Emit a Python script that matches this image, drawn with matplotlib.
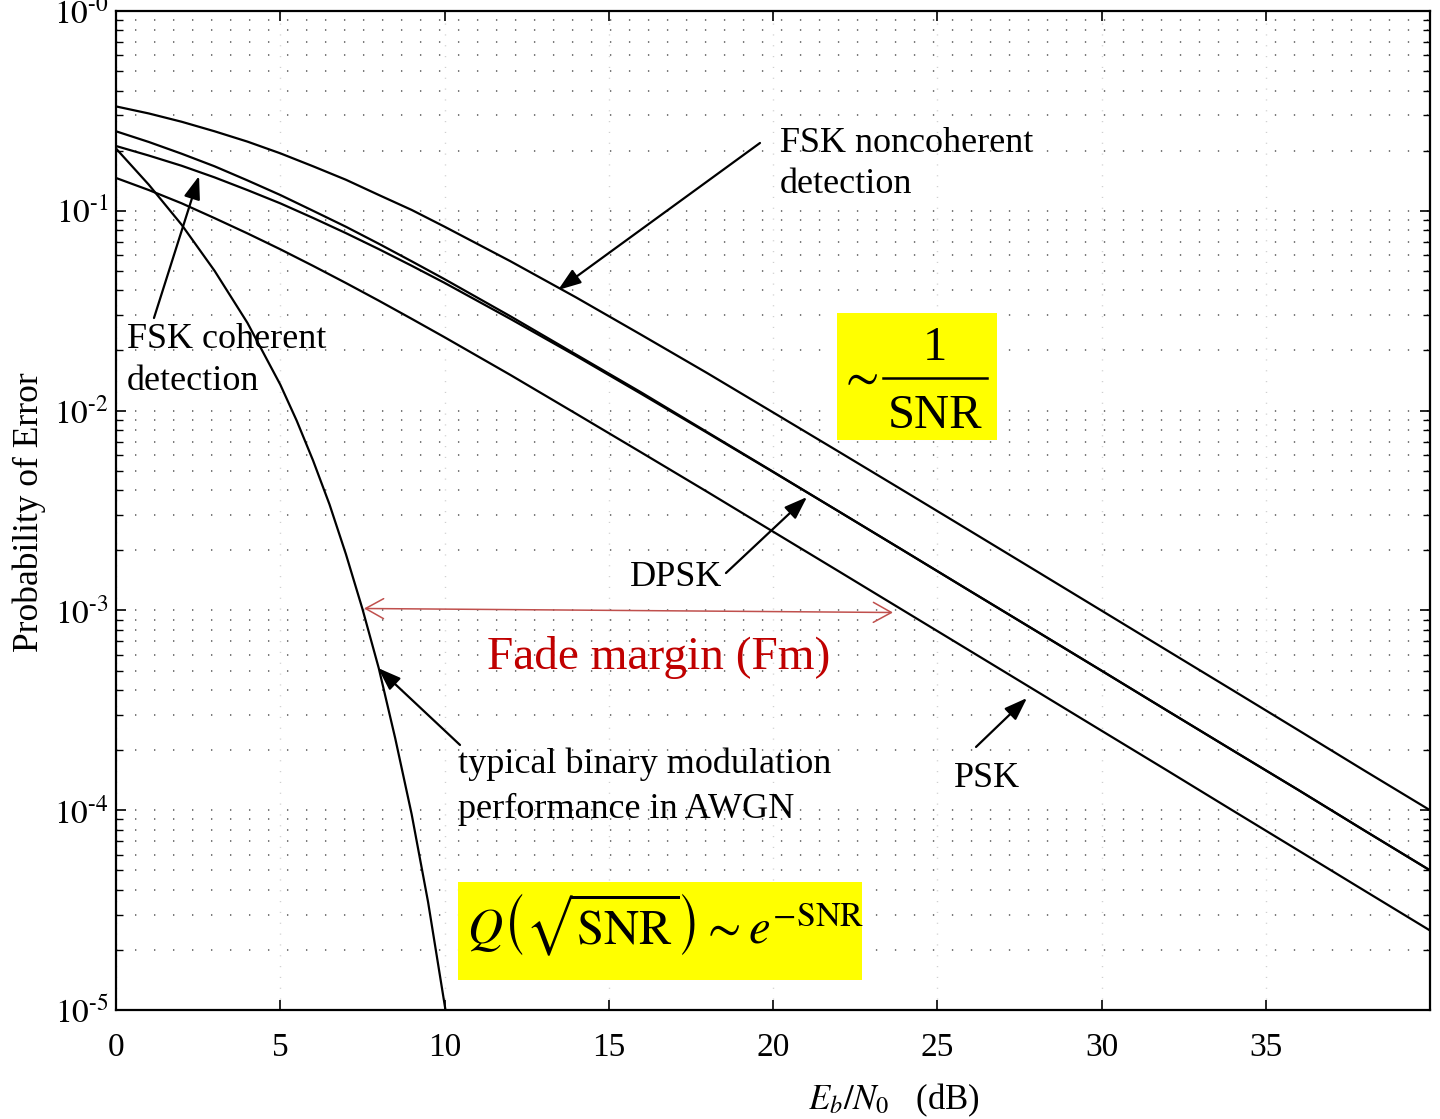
import matplotlib
matplotlib.use('Agg')
import matplotlib.pyplot as plt
from matplotlib.ticker import FixedLocator, FixedFormatter, LogLocator, NullFormatter, NullLocator
from matplotlib.lines import Line2D
from matplotlib.patches import Rectangle

plt.rcParams['font.family'] = ['Liberation Serif', 'DejaVu Serif']
plt.rcParams['mathtext.fontset'] = 'stix'

# ---------------- data ----------------
ebn0_db = [0, 1, 2, 3, 4, 5, 6, 7, 8, 9, 10,
           12, 14, 16, 18, 20, 22, 24, 26, 28, 30, 32, 34, 36, 38, 40]

fsk_noncoherent = [0.333, 0.307, 0.279, 0.250, 0.222, 0.194, 0.167, 0.143, 0.120, 0.101, 0.0833,
                   0.0560, 0.0369, 0.0239, 0.0154, 0.0098, 0.00623, 0.00395, 0.00250, 0.00158,
                   0.000998, 0.000630, 0.000398, 0.000251, 0.000158, 0.000100]

dpsk = [0.250, 0.221, 0.193, 0.167, 0.142, 0.120, 0.100, 0.0832, 0.0684, 0.0559, 0.0455,
        0.0297, 0.0191, 0.0123, 0.00780, 0.00495, 0.00313, 0.00198, 0.00125, 0.000791,
        0.000500, 0.000315, 0.000199, 0.000126, 0.0000792, 0.0000500]

fsk_coherent = [0.211, 0.189, 0.168, 0.147, 0.127, 0.109, 0.0921, 0.0773, 0.0643, 0.0531, 0.0436,
                0.0288, 0.0188, 0.0121, 0.00774, 0.00493, 0.00313, 0.00198, 0.00125, 0.000790,
                0.000499, 0.000315, 0.000199, 0.000126, 0.0000792, 0.0000500]

psk = [0.146, 0.127, 0.109, 0.0919, 0.0771, 0.0642, 0.0530, 0.0435, 0.0355, 0.0288, 0.0233,
       0.0151, 0.00966, 0.00616, 0.00392, 0.00248, 0.00157, 0.000992, 0.000627, 0.000396,
       0.000250, 0.000158, 0.0000995, 0.0000628, 0.0000396, 0.0000250]

awgn_db = [0, 1, 2, 3, 4, 5, 5.5, 6, 6.5, 7, 7.5, 8, 8.5, 9, 9.5, 10.03]
awgn = [0.205, 0.135, 0.0851, 0.0501, 0.0275, 0.0135, 0.00891, 0.00562, 0.00339, 0.00191,
        0.00102, 0.000513, 0.000229, 0.0000955, 0.0000347, 0.0000100]

x_ticks = [0, 5, 10, 15, 20, 25, 30, 35]
x_tick_labels = ['0', '5', '10', '15', '20', '25', '30', '35']
y_ticks = [1e-5, 1e-4, 1e-3, 1e-2, 1e-1, 1e0]
y_tick_labels = [r'$10^{\text{-}5}$', r'$10^{\text{-}4}$', r'$10^{\text{-}3}$',
                 r'$10^{\text{-}2}$', r'$10^{\text{-}1}$', r'$10^{\text{-}0}$']

# ---------------- figure ----------------
fig = plt.figure(figsize=(14.4, 11.19), dpi=100)
ax = fig.add_axes([116 / 1440, 109 / 1119, 1314 / 1440, 999 / 1119])
ax.set_yscale('log')
ax.set_xlim(0, 40)
ax.set_ylim(1e-5, 1)

for series in (fsk_noncoherent, dpsk, fsk_coherent, psk):
    ax.plot(ebn0_db, series, color='black', lw=1.6, solid_joinstyle='round', zorder=3)
ax.plot(awgn_db, awgn, color='black', lw=1.6, solid_joinstyle='round', zorder=3)

ax.xaxis.set_major_locator(FixedLocator(x_ticks))
ax.xaxis.set_major_formatter(FixedFormatter(x_tick_labels))
ax.xaxis.set_minor_locator(NullLocator())
ax.yaxis.set_major_locator(FixedLocator(y_ticks))
ax.yaxis.set_major_formatter(FixedFormatter(y_tick_labels))
ax.yaxis.set_minor_locator(LogLocator(base=10, subs=range(2, 10), numticks=30))
ax.yaxis.set_minor_formatter(NullFormatter())

ax.tick_params(which='both', direction='in', top=True, right=True, colors='black')
ax.tick_params(which='major', length=7, width=1.2, labelsize=24)
ax.tick_params(which='minor', length=5, width=1.0)
ax.tick_params(axis='x', which='major', pad=16)
ax.tick_params(axis='y', which='major', pad=5)
for s in ax.spines.values():
    s.set_linewidth(1.6)

ax.yaxis.grid(True, which='both', linestyle=(0, (0.7, 9.07)), linewidth=1.4, color='#7a7a7a')
ax.xaxis.grid(True, which='major', linestyle=(0, (0.8, 7)), linewidth=1.0, color='#cfcfcf')
ax.set_axisbelow(True)

ax.text(-0.066, 0.4985, 'Probability of Error', transform=ax.transAxes, rotation=90,
        ha='center', va='center', fontsize=25.5)
ax.text(0.5266, -0.099, r'$E_b/N_0$   (dB)', transform=ax.transAxes,
        ha='left', va='baseline', fontsize=25)


def arrow(tail, head):
    ax.annotate('', xy=head, xytext=tail, xycoords='axes fraction', textcoords='axes fraction',
                arrowprops=dict(arrowstyle='-|>,head_length=0.7,head_width=0.25', mutation_scale=20,
                                lw=1.6, color='black', shrinkA=0, shrinkB=0), zorder=6)


lbl = dict(transform=ax.transAxes, ha='left', va='baseline', fontsize=26, zorder=6)

ax.text(0.5053, 0.8589, 'FSK noncoherent', **lbl)
ax.text(0.5053, 0.8178, 'detection', **lbl)
arrow((0.4901, 0.8679), (0.3364, 0.7207))

ax.text(0.0084, 0.6627, 'FSK coherent', **lbl)
ax.text(0.0084, 0.6206, 'detection', **lbl)
arrow((0.0289, 0.6927), (0.0632, 0.8348))

ax.text(0.3912, 0.4244, 'DPSK', **lbl)
arrow((0.4642, 0.4374), (0.5259, 0.5135))

ax.text(0.6377, 0.2232, 'PSK', **lbl)
arrow((0.6545, 0.2633), (0.6933, 0.3123))

ax.text(0.2603, 0.2372, 'typical binary modulation', **lbl)
ax.text(0.2603, 0.1922, 'performance in AWGN', **lbl)
arrow((0.2618, 0.2653), (0.1994, 0.3423))

# fade margin
ax.annotate('', xy=(0.5913, 0.3979), xytext=(0.1887, 0.4019), xycoords='axes fraction',
            textcoords='axes fraction',
            arrowprops=dict(arrowstyle='<->,head_length=0.65,head_width=0.36', mutation_scale=20,
                            lw=1.1, color='#C0504D', shrinkA=0, shrinkB=0), zorder=6)
ax.text(0.2823, 0.3413, 'Fade margin (Fm)', transform=ax.transAxes, ha='left', va='baseline',
        fontsize=34, color='#C00000', zorder=6)

# yellow box 1/SNR
ax.add_patch(Rectangle((0.5487, 0.5706), 0.6705 - 0.5487, 0.6977 - 0.5706, transform=ax.transAxes,
                       facecolor='#FFFF00', edgecolor='none', zorder=5))
ax.text(0.5647, 0.6326, r'$\sim$', transform=ax.transAxes, ha='center', va='center',
        fontsize=35, zorder=6)
ax.text(0.6233, 0.6507, '1', transform=ax.transAxes, ha='center', va='baseline', fontsize=35, zorder=6)
ax.text(0.6233, 0.5826, 'SNR', transform=ax.transAxes, ha='center', va='baseline', fontsize=35, zorder=6)
ax.add_line(Line2D([0.5837, 0.6629], [0.6326, 0.6326], transform=ax.transAxes, color='black',
                   lw=1.8, zorder=6))

# yellow box Q(sqrt(SNR))
ax.add_patch(Rectangle((0.2603, 0.030), 0.5677 - 0.2603, 0.128 - 0.030, transform=ax.transAxes,
                       facecolor='#FFFF00', edgecolor='none', zorder=5))
ax.text(0.2671, 0.0661, r'$Q\left(\sqrt{\mathrm{SNR}}\right)\sim e^{-\mathrm{SNR}}$',
        transform=ax.transAxes, ha='left', va='baseline', fontsize=35, zorder=6)

fig.savefig('out.png', dpi=100, facecolor='white')
